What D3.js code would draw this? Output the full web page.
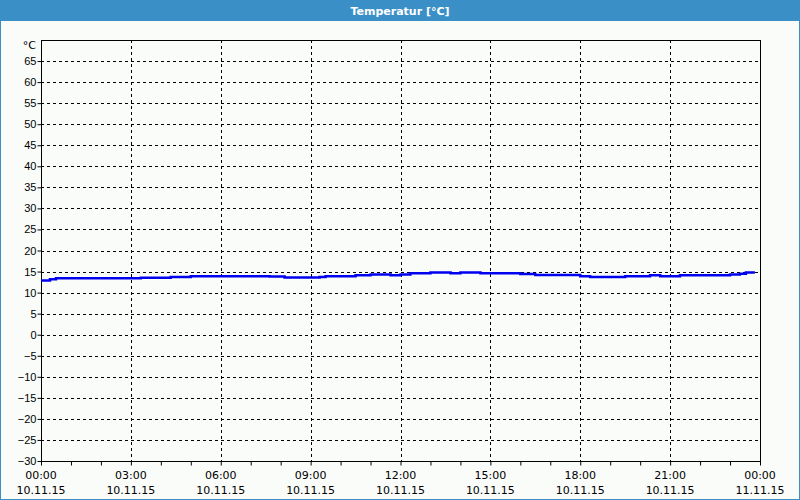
<!DOCTYPE html>
<html>
<head>
<meta charset="utf-8">
<script src="https://cdn.jsdelivr.net/npm/d3@7"></script>
<style>
  body { margin: 0; background: #fafcfa; }
  svg { display: block; font-family: "DejaVu Sans", Verdana, sans-serif; }
</style>
</head>
<body>
<div id="chart"></div>
<script>
// hours since 10.11.15 00:00, temperature in °C (step readings)
const hours = [0, 0.3, 0.5, 3.33, 4.33, 5.0, 7.63, 8.13, 9.3, 9.5, 10.5, 11.0, 11.67, 12.0, 12.33,
               13.0, 13.67, 14.0, 14.67, 16.0, 16.5, 18.0, 18.33, 19.5, 20.33, 20.67, 21.33, 23.0, 23.33, 23.53, 23.83];
const temps = [12.9, 13.2, 13.4, 13.5, 13.7, 13.9, 13.8, 13.6, 13.7, 13.9, 14.1, 14.3, 14.1, 14.3, 14.6,
               14.8, 14.6, 14.8, 14.6, 14.4, 14.2, 13.9, 13.7, 13.9, 14.1, 13.9, 14.1, 14.3, 14.5, 14.8, 14.8];
const yTicks = d3.range(-30, 70, 5);
const timeLabels = ["00:00", "03:00", "06:00", "09:00", "12:00", "15:00", "18:00", "21:00", "00:00"];
const dateLabels = ["10.11.15", "10.11.15", "10.11.15", "10.11.15", "10.11.15", "10.11.15", "10.11.15", "10.11.15", "11.11.15"];
const title = "Temperatur [°C]";

const width = 800, height = 500;
const plotL = 41, plotR = 760, plotT = 40, plotB = 461;

const svg = d3.select("#chart").append("svg")
    .attr("width", width)
    .attr("height", height);

// window frame + title bar
svg.append("rect")
    .attr("x", 0.5).attr("y", 0.5)
    .attr("width", width - 1).attr("height", height - 1)
    .attr("fill", "#fafcfa")
    .attr("stroke", "#3b8fc7");
svg.append("rect")
    .attr("x", 0).attr("y", 0)
    .attr("width", width).attr("height", 21)
    .attr("fill", "#3b8fc7");
svg.append("text")
    .attr("x", width / 2).attr("y", 15)
    .attr("text-anchor", "middle")
    .attr("fill", "#fff")
    .style("font-size", "11px")
    .style("font-weight", "bold")
    .text(title);

const x = d3.scaleLinear().domain([0, 24]).range([plotL, plotR]);
const y = d3.scaleLinear().domain([-30, 70]).range([plotB, plotT]);

// grid
svg.append("g")
    .selectAll("line")
    .data(yTicks.filter(d => d > -30))
    .join("line")
    .attr("x1", plotL).attr("x2", plotR)
    .attr("y1", d => Math.round(y(d)) + 0.5)
    .attr("y2", d => Math.round(y(d)) + 0.5)
    .attr("stroke", "#000")
    .attr("stroke-dasharray", "3,3");

svg.append("g")
    .selectAll("line")
    .data(d3.range(3, 24, 3))
    .join("line")
    .attr("x1", d => Math.round(x(d)) + 0.5)
    .attr("x2", d => Math.round(x(d)) + 0.5)
    .attr("y1", plotT).attr("y2", plotB)
    .attr("stroke", "#000")
    .attr("stroke-dasharray", "3,3");

// axes
const yAxis = svg.append("g")
    .attr("transform", `translate(${plotL + 0.5},0)`)
    .call(d3.axisLeft(y).tickValues(yTicks).tickSize(4).tickSizeOuter(0).tickFormat(d3.format("d")));
yAxis.select(".domain").remove();
yAxis.selectAll("text").style("font-size", "11px").attr("fill", "#000").attr("x", -5);
yAxis.selectAll("line").attr("stroke", "#000");

svg.append("text")
    .attr("x", 36).attr("y", 49)
    .attr("text-anchor", "end")
    .style("font-size", "11px")
    .text("°C");

const xAxis = svg.append("g")
    .attr("transform", `translate(0,${plotB + 0.5})`)
    .call(d3.axisBottom(x).tickValues(d3.range(0, 25, 1)).tickSize(4).tickFormat(""));
xAxis.select(".domain").remove();
xAxis.selectAll("line").attr("stroke", "#000");

const labels = svg.append("g");
labels.selectAll("text.time")
    .data(timeLabels)
    .join("text")
    .attr("class", "time")
    .attr("x", (d, i) => x(i * 3))
    .attr("y", 479)
    .attr("text-anchor", "middle")
    .style("font-size", "11px")
    .text(d => d);
labels.selectAll("text.date")
    .data(dateLabels)
    .join("text")
    .attr("class", "date")
    .attr("x", (d, i) => x(i * 3))
    .attr("y", 494)
    .attr("text-anchor", "middle")
    .style("font-size", "11px")
    .text(d => d);

// plot frame
svg.append("rect")
    .attr("x", plotL + 0.5).attr("y", plotT + 0.5)
    .attr("width", plotR - plotL).attr("height", plotB - plotT)
    .attr("fill", "none")
    .attr("stroke", "#000");

// temperature line
const data = hours.map((h, i) => ({ h, t: temps[i] }));
svg.append("path")
    .datum(data)
    .attr("fill", "none")
    .attr("stroke", "#0000f0")
    .attr("stroke-width", 2.5)
    .attr("d", d3.line().x(d => x(d.h)).y(d => y(d.t)).curve(d3.curveStepAfter));
</script>
</body>
</html>
